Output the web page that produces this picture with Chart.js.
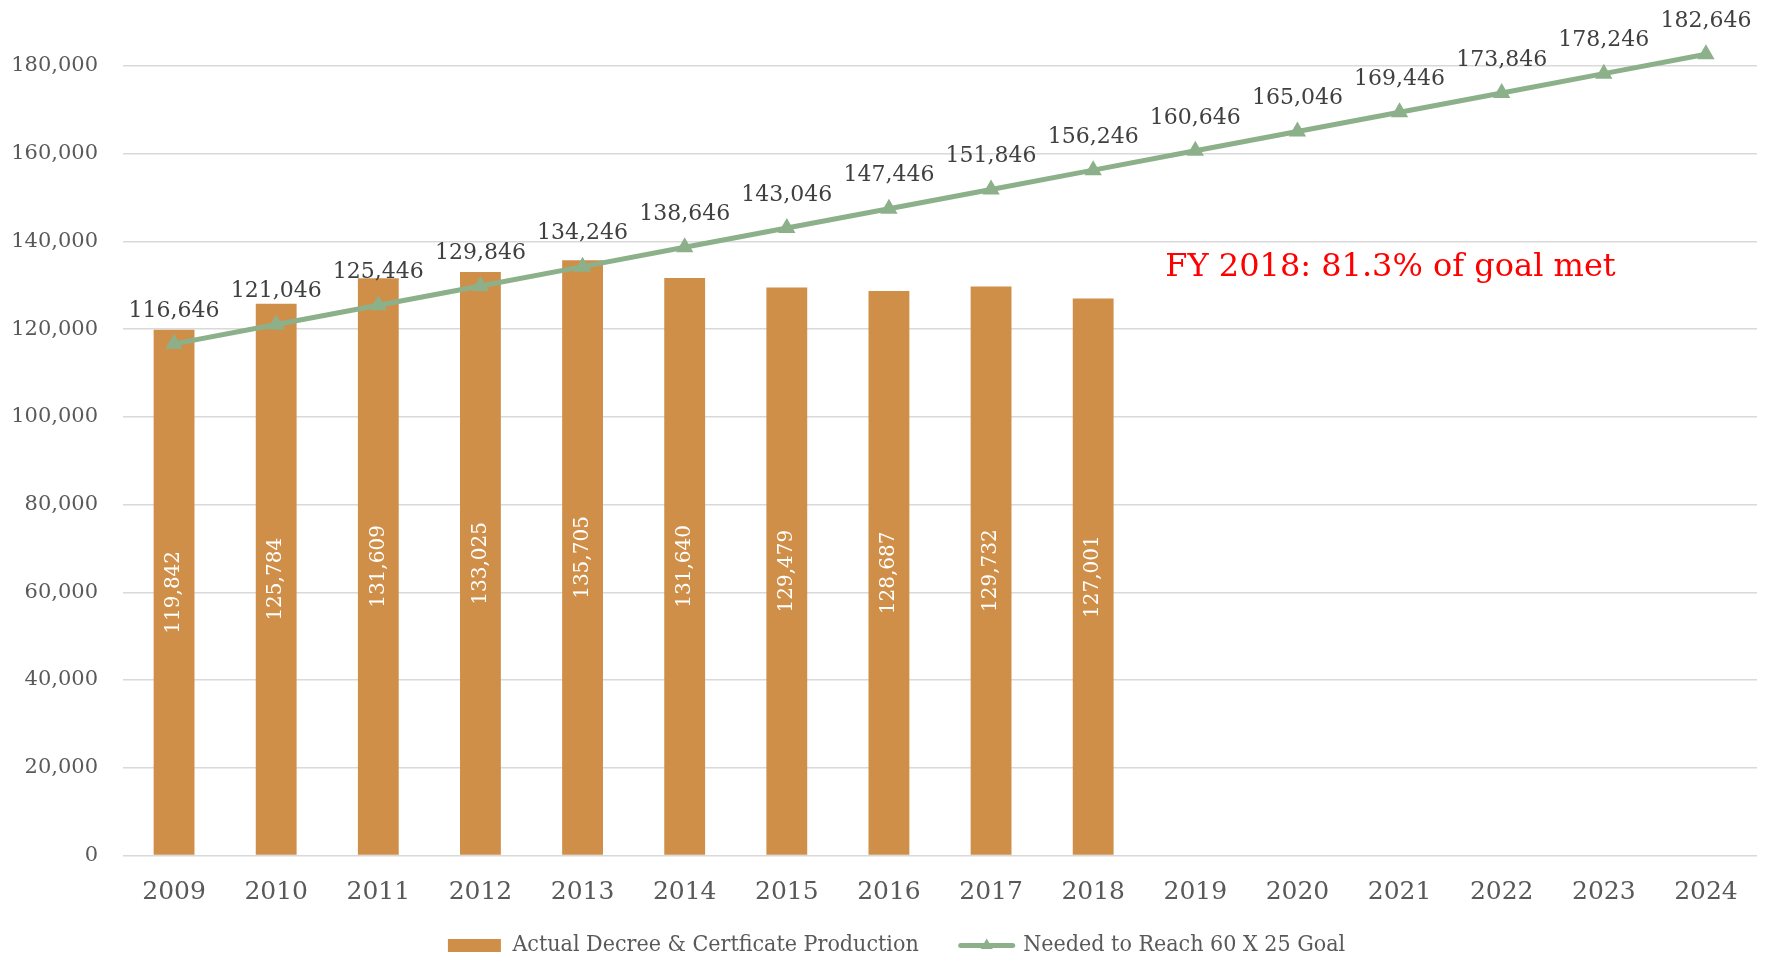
<!DOCTYPE html>
<html>
<head>
<meta charset="utf-8">
<script src="https://cdn.jsdelivr.net/npm/chart.js@4/dist/chart.umd.min.js"></script>
<style>
  html, body { margin: 0; padding: 0; background: #fff; }
  #wrap { width: 1771px; height: 955px; position: relative; }
</style>
</head>
<body>
<div id="wrap"><canvas id="chart"></canvas></div>
<script>
const years = ['2009', '2010', '2011', '2012', '2013', '2014', '2015', '2016',
               '2017', '2018', '2019', '2020', '2021', '2022', '2023', '2024'];
const actual = [119842, 125784, 131609, 133025, 135705, 131640, 129479, 128687,
                129732, 127001, null, null, null, null, null, null];
const needed = [116646, 121046, 125446, 129846, 134246, 138646, 143046, 147446,
                151846, 156246, 160646, 165046, 169446, 173846, 178246, 182646];
const yTicks = [0, 20000, 40000, 60000, 80000, 100000, 120000, 140000, 160000, 180000];
const note = 'FY 2018: 81.3% of goal met';

const barColor = '#CF8F49';
const lineColor = '#8CB08A';
const serif = "'DejaVu Serif', Georgia, serif";
const fmt = v => v.toLocaleString('en-US');

// value labels, note and the legend line marker
const labelPlugin = {
    id: 'labels',
    afterLayout(chart) {
        // nudge the legend row a little to the right, like the original
        if (chart.legend) {
            chart.legend.left += 18;
            chart.legend.right += 18;
        }
        // let the year labels run past the short x-axis box
        chart.scales.x.bottom = chart.height;
    },
    afterDatasetsDraw(chart) {
        const ctx = chart.ctx;
        ctx.save();

        // bar labels, rotated, centred in the bar
        const bars = chart.getDatasetMeta(0);
        ctx.font = "20px " + serif;
        ctx.fillStyle = '#ffffff';
        ctx.textAlign = 'center';
        ctx.textBaseline = 'middle';
        bars.data.forEach((bar, i) => {
            if (actual[i] == null) return;
            const cy = (bar.y + bar.base) / 2;
            ctx.save();
            ctx.translate(bar.x, cy);
            ctx.rotate(-Math.PI / 2);
            ctx.fillText(fmt(actual[i]), 0, 0);
            ctx.restore();
        });

        // line labels above points
        const pts = chart.getDatasetMeta(1);
        ctx.font = "22px " + serif;
        ctx.fillStyle = '#404040';
        pts.data.forEach((p, i) => {
            ctx.fillText(fmt(needed[i]), p.x, p.y - 33);
        });

        // annotation
        const xs = chart.scales.x, ys = chart.scales.y;
        ctx.font = "32px " + serif;
        ctx.fillStyle = '#FF0000';
        ctx.textAlign = 'left';
        ctx.fillText(note, xs.getPixelForValue(10) - 30, ys.getPixelForValue(134000));
        ctx.restore();
    },
    afterDraw(chart) {
        const hit = chart.legend.legendHitBoxes;
        const idx = chart.legend.legendItems.findIndex(it => it.datasetIndex === 1);
        const box = hit[idx];
        if (!box) return;
        const ctx = chart.ctx;
        const y = box.top + box.height / 2;
        ctx.save();
        ctx.strokeStyle = lineColor;
        ctx.lineWidth = 5;
        ctx.lineCap = 'round';
        ctx.beginPath();
        ctx.moveTo(box.left + 2, y);
        ctx.lineTo(box.left + 54, y);
        ctx.stroke();
        ctx.fillStyle = lineColor;
        const cx = box.left + 28, r = 7;
        ctx.beginPath();
        ctx.moveTo(cx, y - r);
        ctx.lineTo(cx + r * 0.87, y + r * 0.5);
        ctx.lineTo(cx - r * 0.87, y + r * 0.5);
        ctx.closePath();
        ctx.fill();
        ctx.restore();
    }
};

new Chart(document.getElementById('chart'), {
    type: 'bar',
    data: {
        labels: years,
        datasets: [{
            type: 'bar',
            label: 'Actual Decree & Certficate Production',
            data: actual,
            backgroundColor: barColor,
            categoryPercentage: 1,
            barPercentage: 0.4,
            order: 2
        }, {
            type: 'line',
            label: 'Needed to Reach 60 X 25 Goal',
            data: needed,
            borderColor: lineColor,
            backgroundColor: lineColor,
            borderWidth: 5,
            pointStyle: 'triangle',
            pointRadius: 10,
            pointBorderWidth: 0,
            pointBackgroundColor: lineColor,
            tension: 0,
            clip: false,
            order: 1
        }]
    },
    options: {
        responsive: true,
        maintainAspectRatio: false,
        animation: false,
        layout: { padding: { top: 44, right: 14, left: 0, bottom: -12 } },
        plugins: {
            tooltip: { enabled: false },
            legend: {
                position: 'bottom',
                labels: {
                    color: '#595959',
                    font: { family: "'DejaVu Serif Condensed', 'Liberation Serif', serif", size: 23 },
                    boxWidth: 53,
                    boxHeight: 13,
                    padding: 40,
                    sort: (a, b) => a.datasetIndex - b.datasetIndex,
                    generateLabels(chart) {
                        const items = Chart.defaults.plugins.legend.labels.generateLabels(chart);
                        items.forEach(it => {
                            it.lineWidth = 0;
                            if (it.datasetIndex === 1) {
                                it.fillStyle = 'rgba(0,0,0,0)';
                                it.strokeStyle = 'rgba(0,0,0,0)';
                            }
                        });
                        return items;
                    }
                }
            }
        },
        scales: {
            x: {
                grid: { display: false, drawTicks: false },
                border: { display: false },
                ticks: {
                    color: '#595959',
                    font: { family: serif, size: 25 },
                    padding: 22,
                    maxRotation: 0
                },
                afterFit(scale) { scale.height = 38.5; }
            },
            y: {
                min: 0,
                max: 185000,
                afterBuildTicks(scale) {
                    scale.ticks = yTicks.map(v => ({ value: v }));
                },
                grid: { color: '#D9D9D9', lineWidth: 1.5, drawTicks: false },
                border: { display: false },
                ticks: {
                    color: '#595959',
                    font: { family: serif, size: 21 },
                    padding: 25,
                    callback: v => fmt(v)
                },
                afterFit(scale) { scale.width = 123; }
            }
        }
    },
    plugins: [labelPlugin]
});
</script>
</body>
</html>
